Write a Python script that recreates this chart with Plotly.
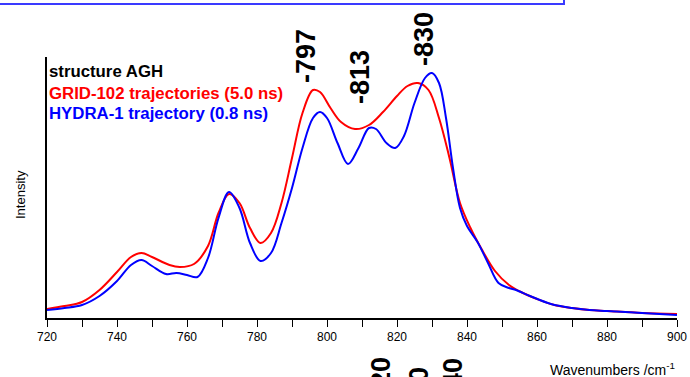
import plotly.graph_objects as go

# Data (intensity in arbitrary units)
grid_x = [720, 725, 730, 735, 740, 744, 747, 750, 755, 758, 762, 766, 769, 772, 775, 778, 781, 784, 787,
          790, 793, 796, 798, 801, 804, 808, 812, 816, 820, 823, 826, 829, 832, 835, 838, 841, 844, 848,
          852, 856, 860, 865, 870, 875, 880, 890, 900]
grid_y = [9, 12, 16, 28, 46, 61, 65, 61, 53, 51, 54, 72, 105, 124, 115, 90, 75, 85, 115,
          160, 205, 228, 226, 210, 196, 189, 193, 206, 222, 232, 235, 228, 200, 160, 115, 90, 70, 47,
          33, 25, 19, 13, 10, 8, 7, 5, 4]

hydra_x = [720, 725, 730, 735, 740, 744, 747, 750, 754, 757, 760, 763, 766, 769, 772, 775, 778, 781, 784,
           787, 790, 793, 796, 798, 800, 803, 806, 809, 812, 814, 817, 819.5, 822, 825, 828, 830, 832, 834,
           836, 838, 840, 843, 846, 849, 852, 854, 858, 864, 870, 875, 880, 890, 900]
hydra_y = [8, 10, 13, 22, 37, 53, 58, 52, 44, 45, 43, 41, 60, 100, 126, 110, 75, 57, 65,
           95, 130, 170, 200, 206, 200, 175, 154, 170, 190, 189, 175, 170, 182, 215, 240, 245, 235, 200,
           150, 110, 92, 76, 55, 35, 30, 28, 22, 14, 10, 8, 7, 5, 3]

x_ticks = [720, 740, 760, 780, 800, 820, 840, 860, 880, 900]
peak_labels = ["-797", "-813", "-830"]
legend_lines = ["structure AGH", "GRID-102 trajectories (5.0 ns)", "HYDRA-1 trajectory (0.8 ns)"]

W, H = 690, 377
L, R, T, B = 47, 13, 57, 59
pw, ph = W - L - R, H - T - B


def px(xp):
    return (xp - L) / pw


def py(yp):
    return (H - B - yp) / ph


fig = go.Figure()
fig.add_trace(go.Scatter(x=grid_x, y=grid_y, mode="lines",
                         line=dict(color="#ff0000", width=2, shape="spline", smoothing=1.0),
                         showlegend=False, hoverinfo="skip"))
fig.add_trace(go.Scatter(x=hydra_x, y=hydra_y, mode="lines",
                         line=dict(color="#0000ff", width=2, shape="spline", smoothing=1.0),
                         showlegend=False, hoverinfo="skip"))

annotations = []
# legend-like text lines
leg_colors = ["#000000", "#ff0000", "#0000ff"]
leg_y = [71, 93, 113]
for t, c, yy in zip(legend_lines, leg_colors, leg_y):
    annotations.append(dict(xref="paper", yref="paper", x=px(47), y=py(yy), text=f"<b>{t}</b>",
                            showarrow=False, xanchor="left", yanchor="middle",
                            font=dict(family="Liberation Sans, Arial", size=16.8, color=c)))

# peak labels (rotated)
peak_pos = [(306, 56), (360, 77), (424, 39)]
for t, (xx, yy) in zip(peak_labels, peak_pos):
    annotations.append(dict(xref="paper", yref="paper", x=px(xx), y=py(yy), text=f"<b>{t}</b>",
                            showarrow=False, textangle=-90, xanchor="center", yanchor="middle",
                            font=dict(family="Liberation Sans, Arial", size=27, color="#000000")))

# cut-off labels at the bottom
bottom_labels = ["-820", "-800", "-840"]
bottom_pos = [(381, 355), (419, 365), (453, 356)]
for t, (xx, yy) in zip(bottom_labels, bottom_pos):
    annotations.append(dict(xref="paper", yref="paper", x=px(xx), y=py(yy), text=f"<b>{t}</b>",
                            showarrow=False, textangle=-90, xanchor="center", yanchor="top",
                            font=dict(family="Liberation Sans, Arial", size=27, color="#000000")))

# y-axis title
annotations.append(dict(xref="paper", yref="paper", x=px(20), y=py(195), text="Intensity",
                        showarrow=False, textangle=-90, xanchor="center", yanchor="middle",
                        font=dict(family="Liberation Sans, Arial", size=13, color="#000000")))
# x-axis title
annotations.append(dict(xref="paper", yref="paper", x=px(677), y=py(369),
                        text="Wavenumbers /cm<sup>-1</sup>",
                        showarrow=False, xanchor="right", yanchor="middle",
                        font=dict(family="Liberation Sans Narrow, Liberation Sans, Arial", size=14, color="#000000")))

shapes = [dict(type="rect", xref="paper", yref="paper", x0=px(-10), x1=px(564), y0=py(4), y1=py(-20),
               line=dict(color="#3a3aff", width=2), fillcolor="rgba(0,0,0,0)")]

fig.update_layout(
    width=W, height=H,
    margin=dict(l=L, r=R, t=T, b=B, autoexpand=False),
    paper_bgcolor="white", plot_bgcolor="white",
    annotations=annotations, shapes=shapes,
    xaxis=dict(range=[720, 900], tickvals=x_ticks, ticktext=[str(v) for v in x_ticks],
               automargin=False,
               ticks="outside", ticklen=7, tickwidth=1, tickcolor="black",
               minor=dict(dtick=10, tick0=720, ticks="outside", ticklen=7, tickwidth=1, tickcolor="black"),
               showline=True, linecolor="black", linewidth=1.5, showgrid=False, zeroline=False,
               tickfont=dict(family="Liberation Sans Narrow, Liberation Sans, Arial", size=12, color="black")),
    yaxis=dict(range=[0, 261], showticklabels=False, ticks="", showline=True, linecolor="black",
               automargin=False,
               linewidth=1.5, showgrid=False, zeroline=False),
)

fig.write_html("out.html")
